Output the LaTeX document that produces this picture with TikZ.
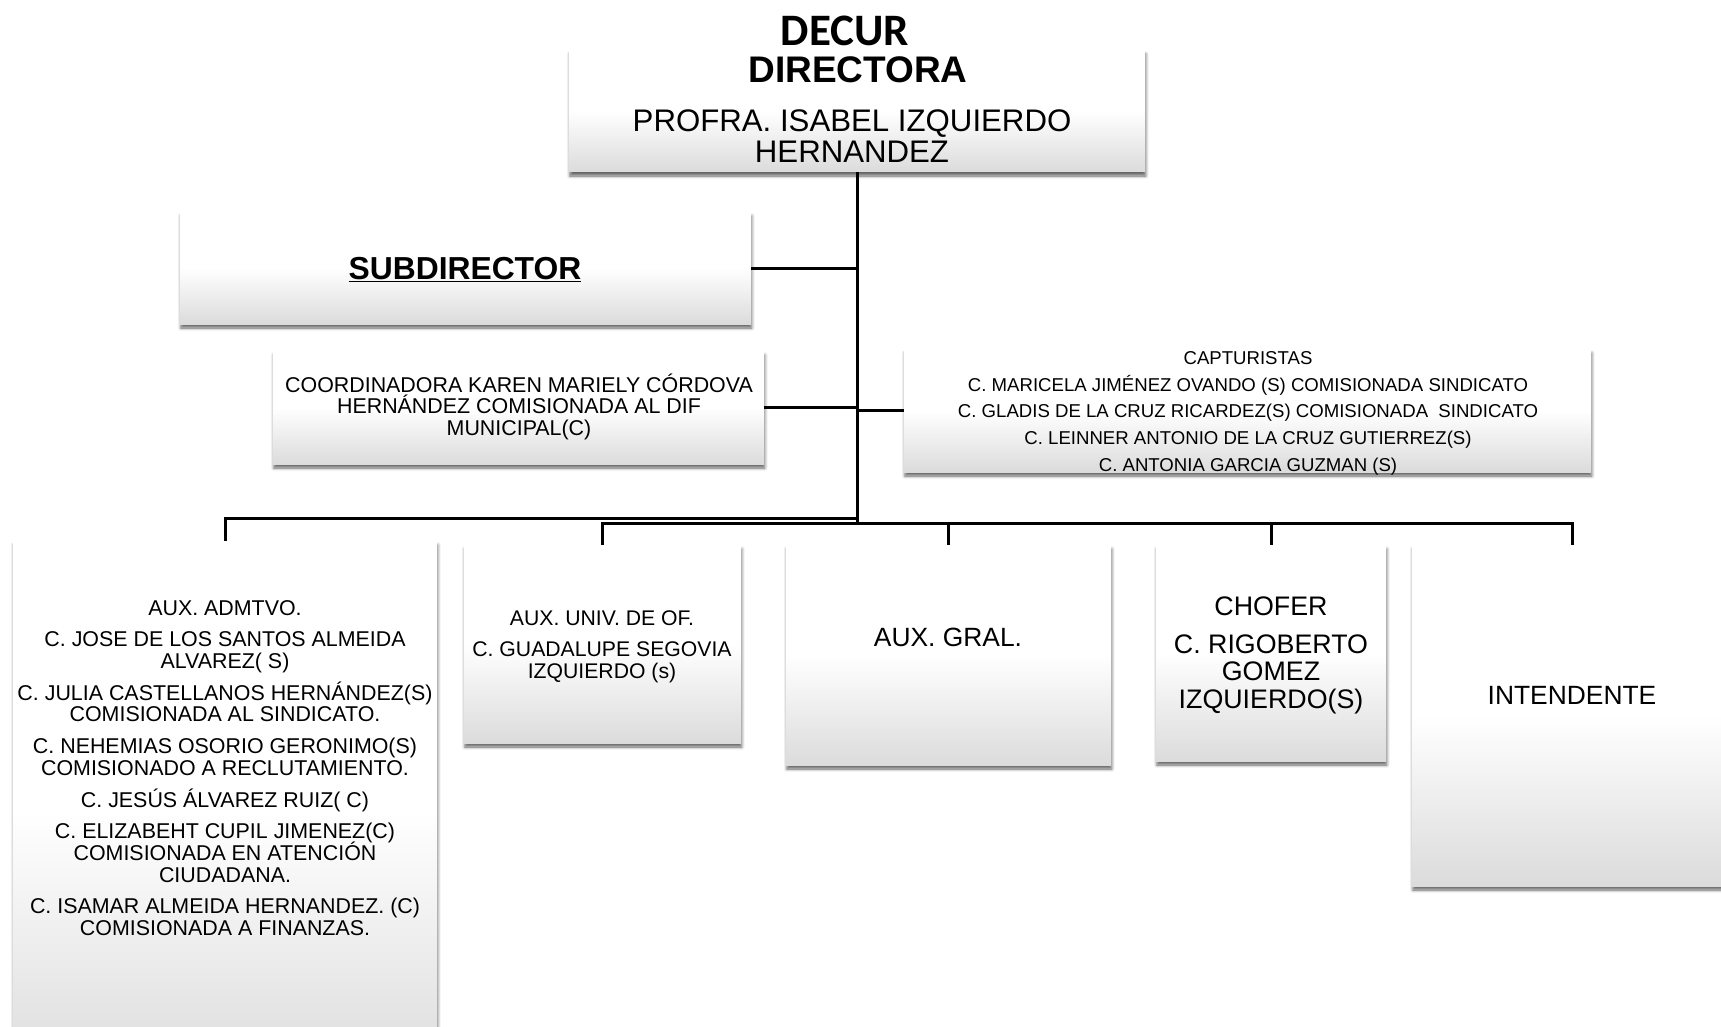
\documentclass[tikz,border=0pt]{standalone}
\usepackage{fontspec}
\setmainfont{Liberation Sans}
\newfontfamily\titlefont{Carlito}
\usetikzlibrary{shadows.blur}
\newcommand{\fsz}[2]{\fontsize{#1}{#2}\selectfont\lineskiplimit=-40pt\relax}

\tikzset{
  orgbox/.style={rectangle, inner sep=0pt, draw=none,
    top color=white, bottom color=black!14, middle color=white,
    blur shadow={shadow xshift=0.8pt, shadow yshift=-4pt,
                 shadow blur radius=3pt, shadow opacity=60}},
  conn/.style={line width=3pt, line join=miter},
  txt/.style={align=center, inner sep=0pt}
}

\begin{document}
\begin{tikzpicture}[x=1pt,y=-1pt]
      \useasboundingbox (0,0) rectangle (1721,1027);
      % boxes
      \node[orgbox, minimum width=576pt, minimum height=122pt] (dir)    at (857,111)    {};
      \node[orgbox, minimum width=571pt, minimum height=112pt] (sub)    at (465.5,268)  {};
      \node[orgbox, minimum width=491pt, minimum height=113pt] (coord)  at (518.5,407.5){};
      \node[orgbox, minimum width=687pt, minimum height=123pt] (capt)   at (1247.5,410.5){};
      \node[orgbox, minimum width=424pt, minimum height=540pt] (admtvo) at (225,811)    {};
      \node[orgbox, minimum width=277pt, minimum height=198pt] (univ)   at (602.5,644)  {};
      \node[orgbox, minimum width=325pt, minimum height=220pt] (gral)   at (948.5,655)  {};
      \node[orgbox, minimum width=230pt, minimum height=216pt] (chofer) at (1271,653)   {};
      \node[orgbox, minimum width=320pt, minimum height=341pt] (intend) at (1572,715.5) {};
      % connectors
      \coordinate (trunkEnd) at (857,523);
      \coordinate (busTop)   at (857,518);
      \draw[conn] (dir.south) -- (trunkEnd);
      \draw[conn] (sub.east) -- (sub.east -| dir.south);
      \draw[conn] (coord.east) -- (coord.east -| dir.south);
      \draw[conn] (capt.west) -- (capt.west -| dir.south);
      \draw[conn] (admtvo.north) |- (busTop);
      \draw[conn] (univ.north) -- (univ.north |- trunkEnd) -| (intend.north);
      \draw[conn] (gral.north) -- (gral.north |- trunkEnd);
      \draw[conn] (chofer.north) -- (chofer.north |- trunkEnd);
      % texts
      \node[txt, font=\titlefont\fsz{45}{48}\bfseries, anchor=base] (decur) at (845,45.5) {DECUR};
      \node[txt, font=\fsz{37}{40}\bfseries, anchor=base] (dirRole) at (858,83)  {DIRECTORA};
      \node[txt, font=\fsz{31.2}{31}, anchor=north] (dirName) at (852,110)
           {PROFRA. ISABEL IZQUIERDO\\HERNANDEZ};
      \node[txt, font=\fsz{31.8}{34}\bfseries, anchor=base] (subText) at (465,279)
           {\underline{SUBDIRECTOR}};
      \node[txt, font=\fsz{21.4}{21.5}, anchor=north] (coordText) at (519,373.5)
           {COORDINADORA KAREN MARIELY CÓRDOVA\\HERNÁNDEZ COMISIONADA AL DIF\\MUNICIPAL(C)};
      \node[txt, font=\fsz{18.6}{26.7}, anchor=north] (captText) at (1248,351.3)
           {CAPTURISTAS\\
            C. MARICELA JIMÉNEZ OVANDO (S) COMISIONADA SINDICATO\\
            C. GLADIS DE LA CRUZ RICARDEZ(S) COMISIONADA\ \ SINDICATO\\
            C. LEINNER ANTONIO DE LA CRUZ GUTIERREZ(S)\\
            C. ANTONIA GARCIA GUZMAN (S)};
      \node[txt, font=\fsz{21.4}{21.7}, anchor=north] (admtvoText) at (225,600)
           {AUX. ADMTVO.\\[10pt]
            C. JOSE DE LOS SANTOS ALMEIDA\\ALVAREZ( S)\\[10pt]
            C. JULIA CASTELLANOS HERNÁNDEZ(S)\\COMISIONADA AL SINDICATO.\\[10pt]
            C. NEHEMIAS OSORIO GERONIMO(S)\\COMISIONADO A RECLUTAMIENTO.\\[10pt]
            C. JESÚS ÁLVAREZ RUIZ( C)\\[10pt]
            C. ELIZABEHT CUPIL JIMENEZ(C)\\COMISIONADA EN ATENCIÓN\\CIUDADANA.\\[10pt]
            C. ISAMAR ALMEIDA HERNANDEZ. (C)\\COMISIONADA A FINANZAS.};
      \node[txt, font=\fsz{21.2}{22}, anchor=north] (univText) at (602,610.4)
           {AUX. UNIV. DE OF.\\[9pt]C. GUADALUPE SEGOVIA\\IZQUIERDO (s)};
      \node[txt, font=\fsz{26.4}{28}, anchor=base] (gralText) at (948,646.5) {AUX. GRAL.};
      \node[txt, font=\fsz{26.8}{27.5}, anchor=north] (chofText) at (1271,596.4)
           {CHOFER\\[10.5pt]C. RIGOBERTO\\GOMEZ\\IZQUIERDO(S)};
      \node[txt, font=\fsz{26.4}{28}, anchor=base] (intText) at (1572,704.5) {INTENDENTE};
\end{tikzpicture}
\end{document}
